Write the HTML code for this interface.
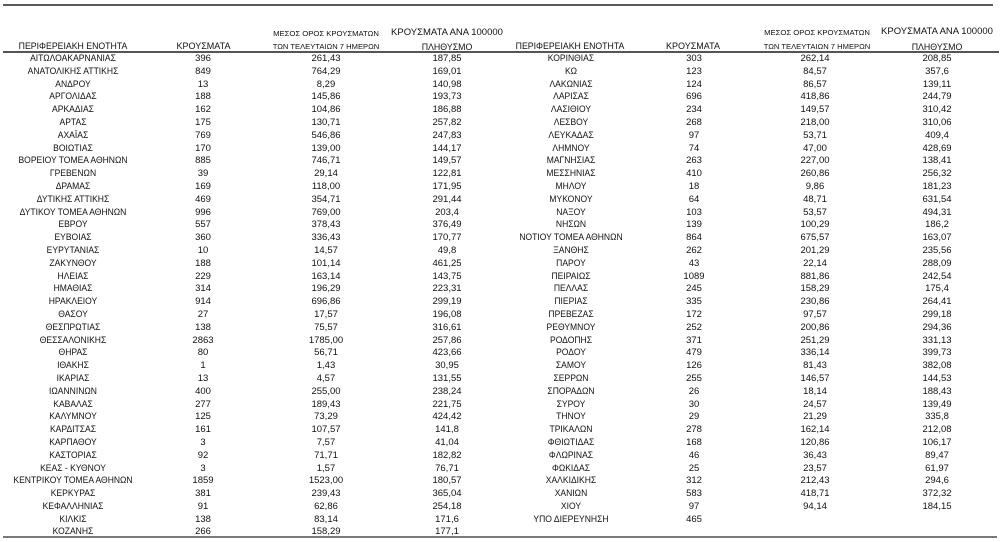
<!DOCTYPE html>
<html>
<head>
<meta charset="utf-8">
<style>
html,body{margin:0;padding:0;background:#fff;}
body{width:1000px;height:542px;position:relative;overflow:hidden;font-family:"Liberation Sans","DejaVu Sans",sans-serif;color:#111;}
.ln{position:absolute;}
.h{position:absolute;width:200px;text-align:center;line-height:12px;height:12px;white-space:nowrap;}
.tbl{position:absolute;left:0;top:53px;width:1000px;}
.r{position:relative;height:12.8px;line-height:12.8px;font-size:9.5px;}
.r span{position:absolute;top:0;width:200px;text-align:center;white-space:nowrap;}
.r .n{transform:scaleX(0.9);transform-origin:50% 50%;}
.a{left:-27px;}
.b{left:103px;}
.c{left:226px;}
.d{left:347px;}
.e{left:471px;}
.f{left:594px;}
.g{left:715px;}
.k{left:837px;}
</style>
</head>
<body>
<div class="ln" style="left:3px;top:4px;width:990px;height:2px;background:#5a5a5a;"></div>
<div class="ln" style="left:3px;top:51px;width:996px;height:1.6px;background:#555;"></div>
<div class="ln" style="left:3px;top:536px;width:994px;height:2px;background:#7a7a7a;"></div>

<!-- headers left -->
<div class="h" style="left:-27px;top:40.3px;font-size:9px;transform:scaleX(0.97);">ΠΕΡΙΦΕΡΕΙΑΚΗ ΕΝΟΤΗΤΑ</div>
<div class="h" style="left:103.5px;top:40.3px;font-size:9px;">ΚΡΟΥΣΜΑΤΑ</div>
<div class="h" style="left:226px;top:28px;font-size:7.7px;">ΜΕΣΟΣ ΟΡΟΣ ΚΡΟΥΣΜΑΤΩΝ</div>
<div class="h" style="left:226px;top:41px;font-size:7.6px;">ΤΩΝ ΤΕΛΕΥΤΑΙΩΝ 7 ΗΜΕΡΩΝ</div>
<div class="h" style="left:347px;top:27px;font-size:9.5px;">ΚΡΟΥΣΜΑΤΑ ΑΝΑ 100000</div>
<div class="h" style="left:347px;top:41px;font-size:8.8px;">ΠΛΗΘΥΣΜΟ</div>
<!-- headers right -->
<div class="h" style="left:470px;top:40.3px;font-size:9px;transform:scaleX(0.97);">ΠΕΡΙΦΕΡΕΙΑΚΗ ΕΝΟΤΗΤΑ</div>
<div class="h" style="left:593px;top:40.3px;font-size:9px;">ΚΡΟΥΣΜΑΤΑ</div>
<div class="h" style="left:717px;top:27px;font-size:7.7px;">ΜΕΣΟΣ ΟΡΟΣ ΚΡΟΥΣΜΑΤΩΝ</div>
<div class="h" style="left:717px;top:41px;font-size:7.6px;">ΤΩΝ ΤΕΛΕΥΤΑΙΩΝ 7 ΗΜΕΡΩΝ</div>
<div class="h" style="left:837px;top:26px;font-size:9.5px;">ΚΡΟΥΣΜΑΤΑ ΑΝΑ 100000</div>
<div class="h" style="left:837px;top:41px;font-size:8.8px;">ΠΛΗΘΥΣΜΟ</div>

<div class="tbl">
<div class="r"><span class="a n">ΑΙΤΩΛΟΑΚΑΡΝΑΝΙΑΣ</span><span class="b">396</span><span class="c">261,43</span><span class="d">187,85</span><span class="e n">ΚΟΡΙΝΘΙΑΣ</span><span class="f">303</span><span class="g">262,14</span><span class="k">208,85</span></div>
<div class="r"><span class="a n">ΑΝΑΤΟΛΙΚΗΣ ΑΤΤΙΚΗΣ</span><span class="b">849</span><span class="c">764,29</span><span class="d">169,01</span><span class="e n">ΚΩ</span><span class="f">123</span><span class="g">84,57</span><span class="k">357,6</span></div>
<div class="r"><span class="a n">ΑΝΔΡΟΥ</span><span class="b">13</span><span class="c">8,29</span><span class="d">140,98</span><span class="e n">ΛΑΚΩΝΙΑΣ</span><span class="f">124</span><span class="g">86,57</span><span class="k">139,11</span></div>
<div class="r"><span class="a n">ΑΡΓΟΛΙΔΑΣ</span><span class="b">188</span><span class="c">145,86</span><span class="d">193,73</span><span class="e n">ΛΑΡΙΣΑΣ</span><span class="f">696</span><span class="g">418,86</span><span class="k">244,79</span></div>
<div class="r"><span class="a n">ΑΡΚΑΔΙΑΣ</span><span class="b">162</span><span class="c">104,86</span><span class="d">186,88</span><span class="e n">ΛΑΣΙΘΙΟΥ</span><span class="f">234</span><span class="g">149,57</span><span class="k">310,42</span></div>
<div class="r"><span class="a n">ΑΡΤΑΣ</span><span class="b">175</span><span class="c">130,71</span><span class="d">257,82</span><span class="e n">ΛΕΣΒΟΥ</span><span class="f">268</span><span class="g">218,00</span><span class="k">310,06</span></div>
<div class="r"><span class="a n">ΑΧΑΪΑΣ</span><span class="b">769</span><span class="c">546,86</span><span class="d">247,83</span><span class="e n">ΛΕΥΚΑΔΑΣ</span><span class="f">97</span><span class="g">53,71</span><span class="k">409,4</span></div>
<div class="r"><span class="a n">ΒΟΙΩΤΙΑΣ</span><span class="b">170</span><span class="c">139,00</span><span class="d">144,17</span><span class="e n">ΛΗΜΝΟΥ</span><span class="f">74</span><span class="g">47,00</span><span class="k">428,69</span></div>
<div class="r"><span class="a n">ΒΟΡΕΙΟΥ ΤΟΜΕΑ ΑΘΗΝΩΝ</span><span class="b">885</span><span class="c">746,71</span><span class="d">149,57</span><span class="e n">ΜΑΓΝΗΣΙΑΣ</span><span class="f">263</span><span class="g">227,00</span><span class="k">138,41</span></div>
<div class="r"><span class="a n">ΓΡΕΒΕΝΩΝ</span><span class="b">39</span><span class="c">29,14</span><span class="d">122,81</span><span class="e n">ΜΕΣΣΗΝΙΑΣ</span><span class="f">410</span><span class="g">260,86</span><span class="k">256,32</span></div>
<div class="r"><span class="a n">ΔΡΑΜΑΣ</span><span class="b">169</span><span class="c">118,00</span><span class="d">171,95</span><span class="e n">ΜΗΛΟΥ</span><span class="f">18</span><span class="g">9,86</span><span class="k">181,23</span></div>
<div class="r"><span class="a n">ΔΥΤΙΚΗΣ ΑΤΤΙΚΗΣ</span><span class="b">469</span><span class="c">354,71</span><span class="d">291,44</span><span class="e n">ΜΥΚΟΝΟΥ</span><span class="f">64</span><span class="g">48,71</span><span class="k">631,54</span></div>
<div class="r"><span class="a n">ΔΥΤΙΚΟΥ ΤΟΜΕΑ ΑΘΗΝΩΝ</span><span class="b">996</span><span class="c">769,00</span><span class="d">203,4</span><span class="e n">ΝΑΞΟΥ</span><span class="f">103</span><span class="g">53,57</span><span class="k">494,31</span></div>
<div class="r"><span class="a n">ΕΒΡΟΥ</span><span class="b">557</span><span class="c">378,43</span><span class="d">376,49</span><span class="e n">ΝΗΣΩΝ</span><span class="f">139</span><span class="g">100,29</span><span class="k">186,2</span></div>
<div class="r"><span class="a n">ΕΥΒΟΙΑΣ</span><span class="b">360</span><span class="c">336,43</span><span class="d">170,77</span><span class="e n">ΝΟΤΙΟΥ ΤΟΜΕΑ ΑΘΗΝΩΝ</span><span class="f">864</span><span class="g">675,57</span><span class="k">163,07</span></div>
<div class="r"><span class="a n">ΕΥΡΥΤΑΝΙΑΣ</span><span class="b">10</span><span class="c">14,57</span><span class="d">49,8</span><span class="e n">ΞΑΝΘΗΣ</span><span class="f">262</span><span class="g">201,29</span><span class="k">235,56</span></div>
<div class="r"><span class="a n">ΖΑΚΥΝΘΟΥ</span><span class="b">188</span><span class="c">101,14</span><span class="d">461,25</span><span class="e n">ΠΑΡΟΥ</span><span class="f">43</span><span class="g">22,14</span><span class="k">288,09</span></div>
<div class="r"><span class="a n">ΗΛΕΙΑΣ</span><span class="b">229</span><span class="c">163,14</span><span class="d">143,75</span><span class="e n">ΠΕΙΡΑΙΩΣ</span><span class="f">1089</span><span class="g">881,86</span><span class="k">242,54</span></div>
<div class="r"><span class="a n">ΗΜΑΘΙΑΣ</span><span class="b">314</span><span class="c">196,29</span><span class="d">223,31</span><span class="e n">ΠΕΛΛΑΣ</span><span class="f">245</span><span class="g">158,29</span><span class="k">175,4</span></div>
<div class="r"><span class="a n">ΗΡΑΚΛΕΙΟΥ</span><span class="b">914</span><span class="c">696,86</span><span class="d">299,19</span><span class="e n">ΠΙΕΡΙΑΣ</span><span class="f">335</span><span class="g">230,86</span><span class="k">264,41</span></div>
<div class="r"><span class="a n">ΘΑΣΟΥ</span><span class="b">27</span><span class="c">17,57</span><span class="d">196,08</span><span class="e n">ΠΡΕΒΕΖΑΣ</span><span class="f">172</span><span class="g">97,57</span><span class="k">299,18</span></div>
<div class="r"><span class="a n">ΘΕΣΠΡΩΤΙΑΣ</span><span class="b">138</span><span class="c">75,57</span><span class="d">316,61</span><span class="e n">ΡΕΘΥΜΝΟΥ</span><span class="f">252</span><span class="g">200,86</span><span class="k">294,36</span></div>
<div class="r"><span class="a n">ΘΕΣΣΑΛΟΝΙΚΗΣ</span><span class="b">2863</span><span class="c">1785,00</span><span class="d">257,86</span><span class="e n">ΡΟΔΟΠΗΣ</span><span class="f">371</span><span class="g">251,29</span><span class="k">331,13</span></div>
<div class="r"><span class="a n">ΘΗΡΑΣ</span><span class="b">80</span><span class="c">56,71</span><span class="d">423,66</span><span class="e n">ΡΟΔΟΥ</span><span class="f">479</span><span class="g">336,14</span><span class="k">399,73</span></div>
<div class="r"><span class="a n">ΙΘΑΚΗΣ</span><span class="b">1</span><span class="c">1,43</span><span class="d">30,95</span><span class="e n">ΣΑΜΟΥ</span><span class="f">126</span><span class="g">81,43</span><span class="k">382,08</span></div>
<div class="r"><span class="a n">ΙΚΑΡΙΑΣ</span><span class="b">13</span><span class="c">4,57</span><span class="d">131,55</span><span class="e n">ΣΕΡΡΩΝ</span><span class="f">255</span><span class="g">146,57</span><span class="k">144,53</span></div>
<div class="r"><span class="a n">ΙΩΑΝΝΙΝΩΝ</span><span class="b">400</span><span class="c">255,00</span><span class="d">238,24</span><span class="e n">ΣΠΟΡΑΔΩΝ</span><span class="f">26</span><span class="g">18,14</span><span class="k">188,43</span></div>
<div class="r"><span class="a n">ΚΑΒΑΛΑΣ</span><span class="b">277</span><span class="c">189,43</span><span class="d">221,75</span><span class="e n">ΣΥΡΟΥ</span><span class="f">30</span><span class="g">24,57</span><span class="k">139,49</span></div>
<div class="r"><span class="a n">ΚΑΛΥΜΝΟΥ</span><span class="b">125</span><span class="c">73,29</span><span class="d">424,42</span><span class="e n">ΤΗΝΟΥ</span><span class="f">29</span><span class="g">21,29</span><span class="k">335,8</span></div>
<div class="r"><span class="a n">ΚΑΡΔΙΤΣΑΣ</span><span class="b">161</span><span class="c">107,57</span><span class="d">141,8</span><span class="e n">ΤΡΙΚΑΛΩΝ</span><span class="f">278</span><span class="g">162,14</span><span class="k">212,08</span></div>
<div class="r"><span class="a n">ΚΑΡΠΑΘΟΥ</span><span class="b">3</span><span class="c">7,57</span><span class="d">41,04</span><span class="e n">ΦΘΙΩΤΙΔΑΣ</span><span class="f">168</span><span class="g">120,86</span><span class="k">106,17</span></div>
<div class="r"><span class="a n">ΚΑΣΤΟΡΙΑΣ</span><span class="b">92</span><span class="c">71,71</span><span class="d">182,82</span><span class="e n">ΦΛΩΡΙΝΑΣ</span><span class="f">46</span><span class="g">36,43</span><span class="k">89,47</span></div>
<div class="r"><span class="a n">ΚΕΑΣ - ΚΥΘΝΟΥ</span><span class="b">3</span><span class="c">1,57</span><span class="d">76,71</span><span class="e n">ΦΩΚΙΔΑΣ</span><span class="f">25</span><span class="g">23,57</span><span class="k">61,97</span></div>
<div class="r"><span class="a n">ΚΕΝΤΡΙΚΟΥ ΤΟΜΕΑ ΑΘΗΝΩΝ</span><span class="b">1859</span><span class="c">1523,00</span><span class="d">180,57</span><span class="e n">ΧΑΛΚΙΔΙΚΗΣ</span><span class="f">312</span><span class="g">212,43</span><span class="k">294,6</span></div>
<div class="r"><span class="a n">ΚΕΡΚΥΡΑΣ</span><span class="b">381</span><span class="c">239,43</span><span class="d">365,04</span><span class="e n">ΧΑΝΙΩΝ</span><span class="f">583</span><span class="g">418,71</span><span class="k">372,32</span></div>
<div class="r"><span class="a n">ΚΕΦΑΛΛΗΝΙΑΣ</span><span class="b">91</span><span class="c">62,86</span><span class="d">254,18</span><span class="e n">ΧΙΟΥ</span><span class="f">97</span><span class="g">94,14</span><span class="k">184,15</span></div>
<div class="r"><span class="a n">ΚΙΛΚΙΣ</span><span class="b">138</span><span class="c">83,14</span><span class="d">171,6</span><span class="e n">ΥΠΟ ΔΙΕΡΕΥΝΗΣΗ</span><span class="f">465</span></div>
<div class="r"><span class="a n">ΚΟΖΑΝΗΣ</span><span class="b">266</span><span class="c">158,29</span><span class="d">177,1</span></div>
</div>
</body>
</html>
